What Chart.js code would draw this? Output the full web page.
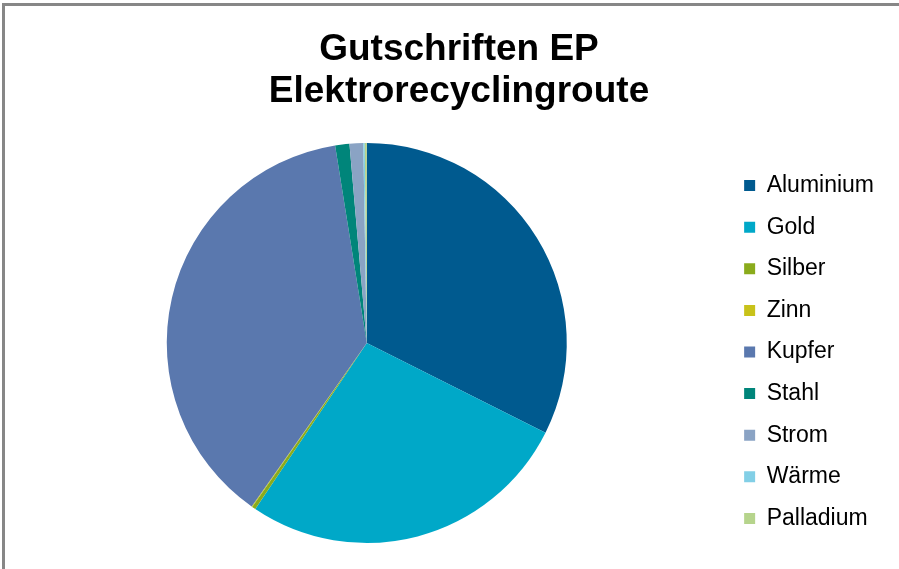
<!DOCTYPE html>
<html>
<head>
<meta charset="utf-8">
<script src="https://cdn.jsdelivr.net/npm/chart.js@4"></script>
<style>
  html, body { margin: 0; padding: 0; background: #fff; overflow: hidden; }
  #frame { position: absolute; left: 2px; top: 3px; width: 1000px; height: 1000px;
           border-top: 3px solid #878787; border-left: 3px solid #878787; }
  #wrap { position: absolute; left: 0; top: 0; width: 899px; height: 569px; }
</style>
</head>
<body>
<div id="frame"></div>
<div id="wrap"><canvas id="pie"></canvas></div>
<script>
// credit shares (%)
const labels = ['Aluminium', 'Gold', 'Silber', 'Zinn', 'Kupfer', 'Stahl', 'Strom', 'Wärme', 'Palladium'];
const shares = [32.4, 27.0, 0.3, 0.05, 37.7, 1.15, 1.1, 0.12, 0.16];
const colors = ['#005a8f', '#00a8c8', '#8aab1c', '#c8c21a', '#5a78ae', '#00857a', '#8aa3c4', '#82cfe6', '#b6d48c'];
const titleLines = ['Gutschriften EP', 'Elektrorecyclingroute'];

const FONT = "'Liberation Sans', Arial, sans-serif";
// the pie sits a little left of / above where chart.js would centre it
const PIE_SHIFT_X = -13;
const PIE_TRIM_BOTTOM = 18;

new Chart(document.getElementById('pie'), {
  type: 'pie',
  data: {
    labels,
    datasets: [{ data: shares, backgroundColor: colors, borderWidth: 0 }],
  },
  options: {
    responsive: true, maintainAspectRatio: false, animation: false,
    layout: { padding: { left: 34, right: 15, top: 0, bottom: 8 } },
    plugins: {
      tooltip: { enabled: false },
      title: {
        display: true, text: titleLines, color: '#000',
        font: { family: FONT, size: 37, weight: 'bold', lineHeight: 42 / 37 },
        padding: { top: 29, bottom: 30 },
      },
      legend: {
        position: 'right', fullSize: false,
        labels: {
          color: '#000', boxWidth: 11, boxHeight: 11, padding: 18.6,
          font: { family: FONT, size: 23 },
        },
      },
    },
  },
  plugins: [{
    id: 'pieShift',
    afterLayout(chart) {
      const a = chart.chartArea;
      a.left += PIE_SHIFT_X;
      a.right += PIE_SHIFT_X;
      a.bottom -= PIE_TRIM_BOTTOM;
      a.height -= PIE_TRIM_BOTTOM;
    },
  }],
});
</script>
</body>
</html>
